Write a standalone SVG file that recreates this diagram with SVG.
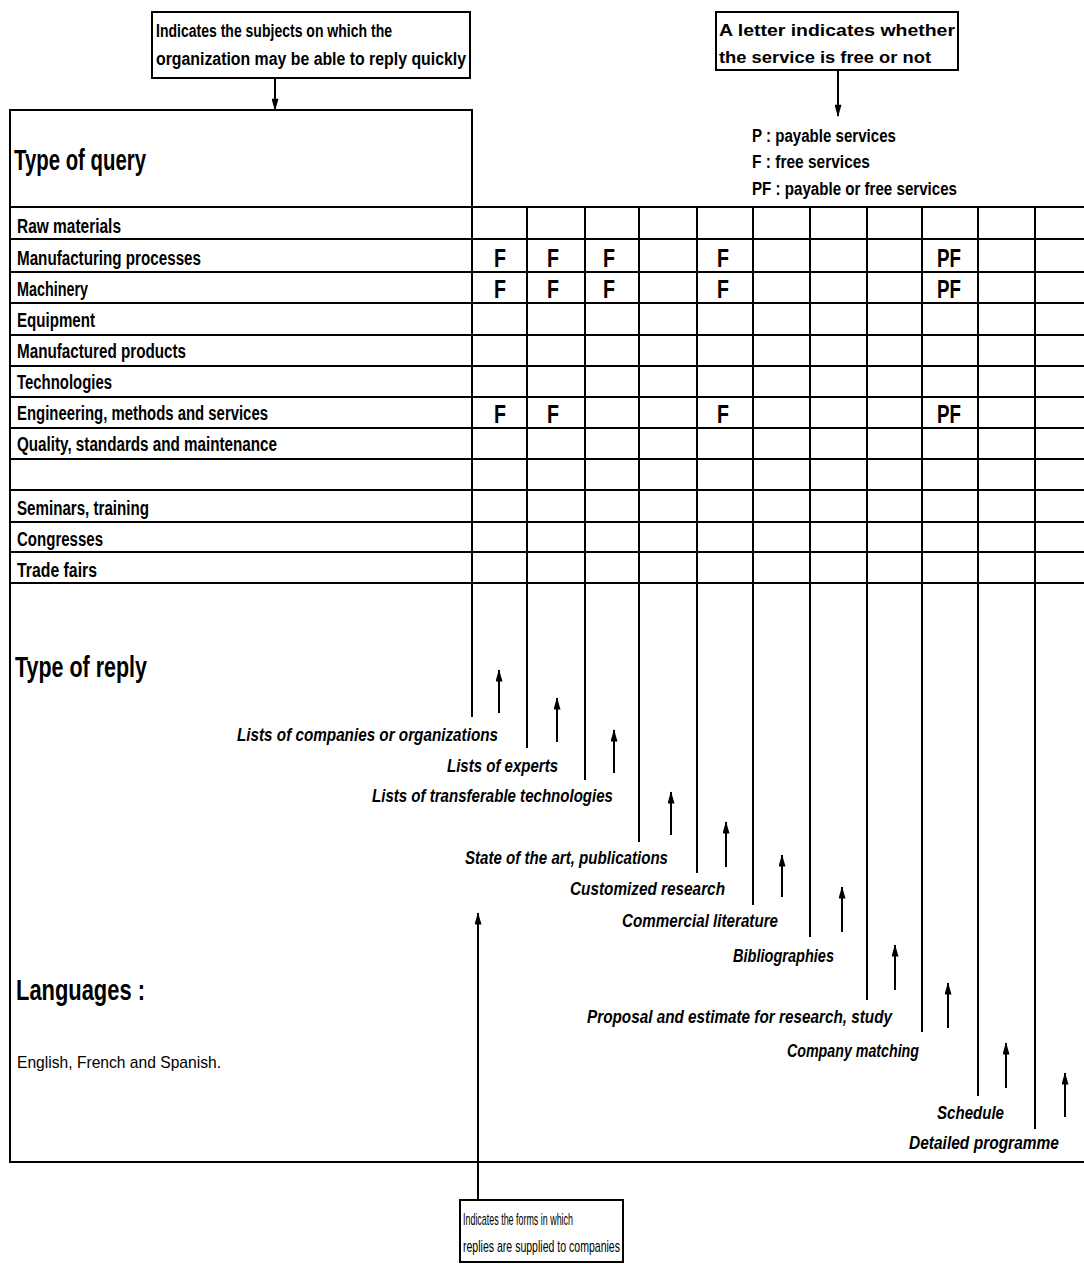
<svg xmlns="http://www.w3.org/2000/svg" width="1084" height="1264" viewBox="0 0 1084 1264">
<style>
.ln{stroke:#000;stroke-width:2;fill:none}
.ar{stroke:#000;stroke-width:2;fill:none;marker-end:url(#ah)}
.t{font-family:"Liberation Sans",Arial,sans-serif;fill:#000}
.b{font-weight:bold}
.i{font-style:italic}
.row{font-size:20px;font-weight:bold}
.rep{font-size:18px;font-weight:bold;font-style:italic}
.big{font-size:30px;font-weight:bold}
.cell{font-size:26px;font-weight:bold}
</style>
<defs>
<marker id="ah" viewBox="0 0 14 8" refX="13" refY="4" markerWidth="14" markerHeight="7" markerUnits="userSpaceOnUse" orient="auto"><path d="M0,0 L14,4 L0,8 z" fill="#000"/></marker>
</defs>
<rect width="1084" height="1264" fill="#fff"/>

<g id="frame">
<line class="ln" x1="10" y1="110" x2="10" y2="1162"/>
<line class="ln" x1="9" y1="110" x2="473" y2="110"/>
<line class="ln" x1="9" y1="1162" x2="1084" y2="1162"/>
</g>

<g id="grid">
<line class="ln" x1="10" y1="207" x2="1084" y2="207"/>
<line class="ln" x1="10" y1="239" x2="1084" y2="239"/>
<line class="ln" x1="10" y1="272" x2="1084" y2="272"/>
<line class="ln" x1="10" y1="303" x2="1084" y2="303"/>
<line class="ln" x1="10" y1="335" x2="1084" y2="335"/>
<line class="ln" x1="10" y1="366" x2="1084" y2="366"/>
<line class="ln" x1="10" y1="397" x2="1084" y2="397"/>
<line class="ln" x1="10" y1="428" x2="1084" y2="428"/>
<line class="ln" x1="10" y1="459" x2="1084" y2="459"/>
<line class="ln" x1="10" y1="490" x2="1084" y2="490"/>
<line class="ln" x1="10" y1="522" x2="1084" y2="522"/>
<line class="ln" x1="10" y1="552" x2="1084" y2="552"/>
<line class="ln" x1="10" y1="583" x2="1084" y2="583"/>
<line class="ln" x1="472" y1="110" x2="472" y2="717"/>
<line class="ln" x1="527" y1="207" x2="527" y2="748"/>
<line class="ln" x1="585" y1="207" x2="585" y2="780"/>
<line class="ln" x1="639" y1="207" x2="639" y2="842"/>
<line class="ln" x1="697" y1="207" x2="697" y2="873"/>
<line class="ln" x1="753" y1="207" x2="753" y2="905"/>
<line class="ln" x1="810" y1="207" x2="810" y2="937"/>
<line class="ln" x1="867" y1="207" x2="867" y2="1000"/>
<line class="ln" x1="922" y1="207" x2="922" y2="1032"/>
<line class="ln" x1="978" y1="207" x2="978" y2="1096"/>
<line class="ln" x1="1035" y1="207" x2="1035" y2="1129"/>
</g>

<g id="callout-subjects">
<rect class="ln" x="152" y="12" width="318" height="66"/>
<text class="t b" x="156" y="37" font-size="18" textLength="236" lengthAdjust="spacingAndGlyphs">Indicates the subjects on which the</text>
<text class="t b" x="156" y="65" font-size="18" textLength="310" lengthAdjust="spacingAndGlyphs">organization may be able to reply quickly</text>
</g>

<g id="callout-letter">
<rect class="ln" x="716" y="12" width="242" height="58"/>
<text class="t b" x="719" y="36" font-size="17" textLength="236" lengthAdjust="spacingAndGlyphs">A letter indicates whether</text>
<text class="t b" x="719" y="63" font-size="17" textLength="212" lengthAdjust="spacingAndGlyphs">the service is free or not</text>
</g>

<g id="legend">
<text class="t b" x="752" y="142" font-size="18" textLength="144" lengthAdjust="spacingAndGlyphs">P : payable services</text>
<text class="t b" x="752" y="168" font-size="18" textLength="118" lengthAdjust="spacingAndGlyphs">F : free services</text>
<text class="t b" x="752" y="195" font-size="18" textLength="205" lengthAdjust="spacingAndGlyphs">PF : payable or free services</text>
</g>

<g id="query-box">
<text class="t big" x="14" y="170" textLength="132" lengthAdjust="spacingAndGlyphs">Type of query</text>
</g>

<g id="query-rows">
<text class="t row" x="17" y="233" textLength="104" lengthAdjust="spacingAndGlyphs">Raw materials</text>
<text class="t row" x="17" y="265" textLength="184" lengthAdjust="spacingAndGlyphs">Manufacturing processes</text>
<text class="t row" x="17" y="296" textLength="71" lengthAdjust="spacingAndGlyphs">Machinery</text>
<text class="t row" x="17" y="327" textLength="78" lengthAdjust="spacingAndGlyphs">Equipment</text>
<text class="t row" x="17" y="358" textLength="169" lengthAdjust="spacingAndGlyphs">Manufactured products</text>
<text class="t row" x="17" y="389" textLength="95" lengthAdjust="spacingAndGlyphs">Technologies</text>
<text class="t row" x="17" y="420" textLength="251" lengthAdjust="spacingAndGlyphs">Engineering, methods and services</text>
<text class="t row" x="17" y="451" textLength="260" lengthAdjust="spacingAndGlyphs">Quality, standards and maintenance</text>
<text class="t row" x="17" y="515" textLength="132" lengthAdjust="spacingAndGlyphs">Seminars, training</text>
<text class="t row" x="17" y="546" textLength="86" lengthAdjust="spacingAndGlyphs">Congresses</text>
<text class="t row" x="17" y="577" textLength="80" lengthAdjust="spacingAndGlyphs">Trade fairs</text>
</g>

<g id="cells">
<text class="t cell" x="494" y="267" textLength="12" lengthAdjust="spacingAndGlyphs">F</text>
<text class="t cell" x="547" y="267" textLength="12" lengthAdjust="spacingAndGlyphs">F</text>
<text class="t cell" x="603" y="267" textLength="12" lengthAdjust="spacingAndGlyphs">F</text>
<text class="t cell" x="717" y="267" textLength="12" lengthAdjust="spacingAndGlyphs">F</text>
<text class="t cell" x="937" y="267" textLength="24" lengthAdjust="spacingAndGlyphs">PF</text>
<text class="t cell" x="494" y="298" textLength="12" lengthAdjust="spacingAndGlyphs">F</text>
<text class="t cell" x="547" y="298" textLength="12" lengthAdjust="spacingAndGlyphs">F</text>
<text class="t cell" x="603" y="298" textLength="12" lengthAdjust="spacingAndGlyphs">F</text>
<text class="t cell" x="717" y="298" textLength="12" lengthAdjust="spacingAndGlyphs">F</text>
<text class="t cell" x="937" y="298" textLength="24" lengthAdjust="spacingAndGlyphs">PF</text>
<text class="t cell" x="494" y="423" textLength="12" lengthAdjust="spacingAndGlyphs">F</text>
<text class="t cell" x="547" y="423" textLength="12" lengthAdjust="spacingAndGlyphs">F</text>
<text class="t cell" x="717" y="423" textLength="12" lengthAdjust="spacingAndGlyphs">F</text>
<text class="t cell" x="937" y="423" textLength="24" lengthAdjust="spacingAndGlyphs">PF</text>
</g>

<g id="reply-title">
<text class="t big" x="15" y="677" textLength="132" lengthAdjust="spacingAndGlyphs">Type of reply</text>
</g>

<g id="reply-labels">
<text class="t rep" x="237" y="741" textLength="261" lengthAdjust="spacingAndGlyphs">Lists of  companies or organizations</text>
<text class="t rep" x="447" y="772" textLength="111" lengthAdjust="spacingAndGlyphs">Lists of experts</text>
<text class="t rep" x="372" y="802" textLength="241" lengthAdjust="spacingAndGlyphs">Lists of transferable technologies</text>
<text class="t rep" x="465" y="864" textLength="203" lengthAdjust="spacingAndGlyphs">State of the art, publications</text>
<text class="t rep" x="570" y="895" textLength="155" lengthAdjust="spacingAndGlyphs">Customized research</text>
<text class="t rep" x="622" y="927" textLength="156" lengthAdjust="spacingAndGlyphs">Commercial literature</text>
<text class="t rep" x="733" y="962" textLength="101" lengthAdjust="spacingAndGlyphs">Bibliographies</text>
<text class="t rep" x="587" y="1023" textLength="305" lengthAdjust="spacingAndGlyphs">Proposal and estimate for research, study</text>
<text class="t rep" x="787" y="1057" textLength="132" lengthAdjust="spacingAndGlyphs">Company matching</text>
<text class="t rep" x="937" y="1119" textLength="67" lengthAdjust="spacingAndGlyphs">Schedule</text>
<text class="t rep" x="909" y="1149" textLength="150" lengthAdjust="spacingAndGlyphs">Detailed programme</text>
</g>

<g id="languages">
<text class="t big" x="16" y="1000" textLength="129" lengthAdjust="spacingAndGlyphs">Languages :</text>
<text class="t" x="17" y="1068" font-size="17" textLength="204" lengthAdjust="spacingAndGlyphs">English, French and Spanish.</text>
</g>

<g id="callout-forms">
<rect class="ln" x="460" y="1200" width="163" height="62"/>
<text class="t" x="463" y="1225" font-size="17" textLength="110" lengthAdjust="spacingAndGlyphs">Indicates the forms in which</text>
<text class="t" x="463" y="1252" font-size="17" textLength="157" lengthAdjust="spacingAndGlyphs">replies are supplied to companies</text>
</g>

<g id="connectors">
<line class="ar" x1="275" y1="78" x2="275" y2="110"/>
<line class="ar" x1="838" y1="70" x2="838" y2="116"/>
<line class="ar" x1="478" y1="1200" x2="478" y2="913"/>
<line class="ar" x1="499" y1="713" x2="499" y2="670"/>
<line class="ar" x1="557" y1="742" x2="557" y2="698"/>
<line class="ar" x1="614" y1="773" x2="614" y2="730"/>
<line class="ar" x1="671" y1="835" x2="671" y2="792"/>
<line class="ar" x1="726" y1="867" x2="726" y2="822"/>
<line class="ar" x1="782" y1="897" x2="782" y2="855"/>
<line class="ar" x1="842" y1="932" x2="842" y2="887"/>
<line class="ar" x1="895" y1="990" x2="895" y2="945"/>
<line class="ar" x1="948" y1="1028" x2="948" y2="983"/>
<line class="ar" x1="1006" y1="1088" x2="1006" y2="1043"/>
<line class="ar" x1="1065" y1="1117" x2="1065" y2="1073"/>
</g>
</svg>
